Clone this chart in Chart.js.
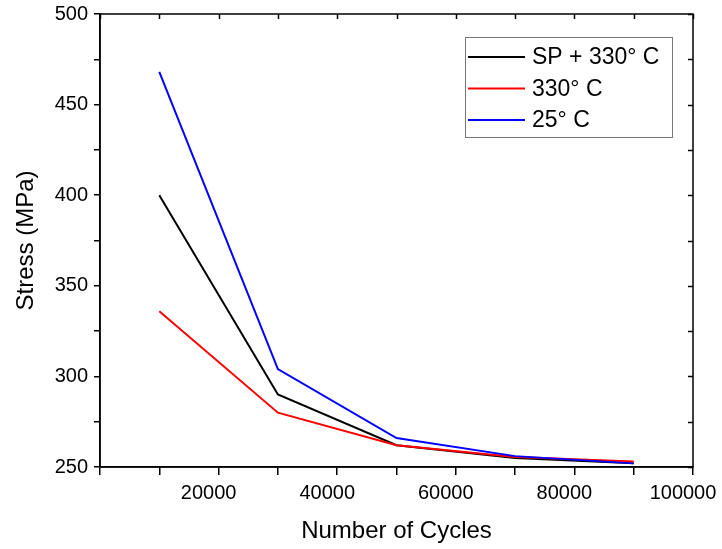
<!DOCTYPE html>
<html>
<head>
<meta charset="utf-8">
<script src="https://cdn.jsdelivr.net/npm/chart.js@4/dist/chart.umd.min.js"></script>
<style>
  html, body { margin: 0; padding: 0; background: #fff; }
  canvas { display: block; }
</style>
</head>
<body>
<canvas id="fatigueChart" width="722" height="549"></canvas>
<script>
const cycles = [10000, 30000, 50000, 70000, 90000];
const spStress = [400, 290, 262, 255, 252];
const hotStress = [336, 280, 262, 255.5, 253];
const roomStress = [468, 304, 266, 256, 252];
const seriesNames = ['SP + 330\u00B0 C', '330\u00B0 C', '25\u00B0 C'];
const seriesColors = ['#000000', '#ff0000', '#0000ff'];

const FONT = '"Liberation Sans", Arial, sans-serif';

const toPoints = (ys) => cycles.map((x, i) => ({ x: x, y: ys[i] }));

function noPad(s) {
  s.paddingLeft = 0; s.paddingRight = 0;
  s.paddingTop = 0; s.paddingBottom = 0;
}

// frame + inward ticks on top and right
const framePlugin = {
  id: 'frame',
  afterDraw(chart) {
    const c = chart.ctx;
    const a = chart.chartArea;
    c.save();
    c.strokeStyle = '#000';
    c.lineWidth = 1.5;
    c.strokeRect(a.left, a.top, a.right - a.left, a.bottom - a.top);
    const xs = chart.scales.x, ys = chart.scales.y;
    c.beginPath();
    xs.ticks.forEach(t => {
      const px = Math.round(xs.getPixelForValue(t.value)) + 0.5;
      c.moveTo(px, a.top); c.lineTo(px, a.top + 5);
    });
    ys.ticks.forEach(t => {
      const py = Math.round(ys.getPixelForValue(t.value)) + 0.5;
      c.moveTo(a.right, py); c.lineTo(a.right - 5, py);
    });
    c.stroke();
    c.restore();
  }
};

// boxed legend inside the plot
const legendPlugin = {
  id: 'boxLegend',
  afterDraw(chart) {
    const c = chart.ctx;
    const box = { x: 465, y: 37, w: 207, h: 100 };
    c.save();
    c.fillStyle = '#fff';
    c.fillRect(box.x, box.y, box.w, box.h);
    c.strokeStyle = '#777';
    c.lineWidth = 1;
    c.strokeRect(box.x + 0.5, box.y + 0.5, box.w, box.h);
    c.font = '23px ' + FONT;
    c.textBaseline = 'middle';
    c.fillStyle = '#000';
    chart.data.datasets.forEach((ds, i) => {
      const cy = 57 + i * 31.5;
      c.strokeStyle = ds.borderColor;
      c.lineWidth = 2;
      c.beginPath();
      c.moveTo(468, cy); c.lineTo(525, cy);
      c.stroke();
      c.fillText(ds.label, 532, cy + 1);
    });
    c.restore();
  }
};

new Chart(document.getElementById('fatigueChart'), {
  type: 'line',
  data: {
    datasets: [
      { label: seriesNames[0], data: toPoints(spStress), borderColor: seriesColors[0], order: 2 },
      { label: seriesNames[1], data: toPoints(hotStress), borderColor: seriesColors[1], order: 1 },
      { label: seriesNames[2], data: toPoints(roomStress), borderColor: seriesColors[2], order: 0 }
    ]
  },
  options: {
    responsive: false,
    animation: false,
    devicePixelRatio: 1,
    layout: { padding: { top: 14, right: 29, left: 0, bottom: 0 } },
    elements: {
      line: { borderWidth: 2, tension: 0 },
      point: { radius: 0 }
    },
    plugins: {
      legend: { display: false },
      tooltip: { enabled: false }
    },
    scales: {
      x: {
        type: 'linear',
        min: 0,
        max: 100000,
        afterFit(s) { s.height = 82; noPad(s); },
        border: { display: true, color: '#000', width: 1.5 },
        grid: { drawOnChartArea: false, drawTicks: true, tickLength: 8, color: '#000', lineWidth: 1.5 },
        ticks: {
          stepSize: 10000,
          autoSkip: false,
          maxRotation: 0,
          color: '#000',
          font: { family: FONT, size: 20 },
          padding: 6,
          labelOffset: -10,
          callback: (v) => (v !== 0 && v % 20000 === 0) ? String(v) : ''
        },
        title: {
          display: true,
          text: 'Number of Cycles',
          color: '#000',
          font: { family: FONT, size: 24 },
          padding: { top: 0, bottom: 3 }
        }
      },
      y: {
        min: 250,
        max: 500,
        afterFit(s) { s.width = 100; noPad(s); },
        border: { display: true, color: '#000', width: 1.5 },
        grid: { drawOnChartArea: false, drawTicks: true, tickLength: 6, color: '#000', lineWidth: 1.5 },
        ticks: {
          stepSize: 25,
          autoSkip: false,
          color: '#000',
          font: { family: FONT, size: 20 },
          padding: 6,
          callback: (v) => (v % 50 === 0) ? String(v) : ''
        },
        title: {
          display: true,
          text: 'Stress (MPa)',
          color: '#000',
          font: { family: FONT, size: 24 },
          padding: { top: 12, bottom: 0 }
        }
      }
    }
  },
  plugins: [framePlugin, legendPlugin]
});
</script>
</body>
</html>
